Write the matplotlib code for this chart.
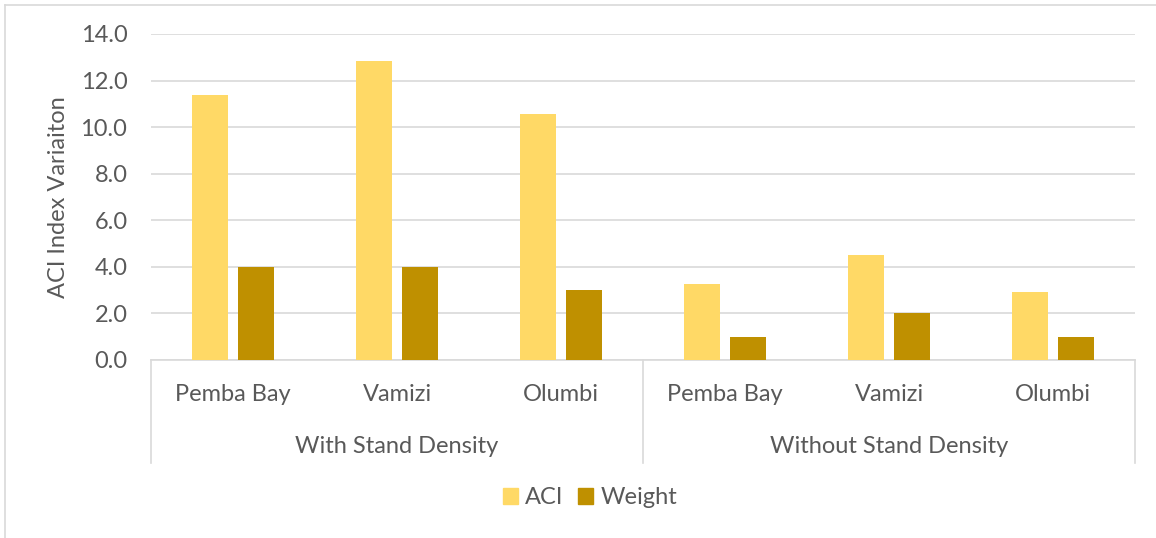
import numpy as np
import matplotlib
matplotlib.use('Agg')
import matplotlib.pyplot as plt
from matplotlib.patches import Patch
from matplotlib.lines import Line2D

sites = ['Pemba Bay', 'Vamizi', 'Olumbi', 'Pemba Bay', 'Vamizi', 'Olumbi']
groups = ['With Stand Density', 'Without Stand Density']
aci = [11.4, 12.85, 10.55, 3.25, 4.5, 2.9]
weight = [4, 4, 3, 1, 2, 1]

TEXT = '#595959'
GRID = '#D9D9D9'
ACI_COLOR = '#FFD966'
WEIGHT_COLOR = '#BF9000'
FS = 17

plt.rcParams['font.family'] = ['Lato', 'DejaVu Sans']

W, H = 1156, 538
fig = plt.figure(figsize=(W / 100, H / 100), dpi=100)


def fx(px):
    return px / W


def fy(py):
    return 1 - py / H


# chart area border
fig.add_artist(Line2D([fx(5), fx(5)], [fy(5), 0], color=GRID, lw=1.2))
fig.add_artist(Line2D([fx(5), 1], [fy(5), fy(5)], color=GRID, lw=1.2))

ax = fig.add_axes([fx(151), fy(360), fx(1135) - fx(151), fy(34) - fy(360)])
x = np.arange(len(sites))
ax.bar(x - 0.14, aci, width=0.225, color=ACI_COLOR, zorder=3)
ax.bar(x + 0.14, weight, width=0.225, color=WEIGHT_COLOR, zorder=3)

ax.set_xlim(-0.5, len(sites) - 0.5)
ax.set_ylim(0, 14)
ax.set_yticks(np.arange(0, 14.1, 2))
ax.set_yticklabels([f'{v:.1f}' for v in np.arange(0, 14.1, 2)])
ax.tick_params(axis='y', length=0, labelsize=FS, labelcolor=TEXT, pad=17)
ax.set_xticks([])
ax.yaxis.grid(True, color=GRID, lw=1.2, zorder=0)
for s in ['top', 'right', 'left']:
    ax.spines[s].set_visible(False)
ax.spines['bottom'].set_color(GRID)
ax.spines['bottom'].set_linewidth(1.2)
ax.set_ylabel('ACI Index Variaiton', fontsize=FS, color=TEXT, labelpad=8)

# two-level category axis (offsets in points, 0.72 pt per pixel)
for i, name in enumerate(sites):
    ax.annotate(name, xy=(x[i], 0), xycoords=('data', 'axes fraction'),
                xytext=(0, -25), textcoords='offset points', ha='center',
                va='center', fontsize=FS, color=TEXT)
for j, g in enumerate(groups):
    ax.annotate(g, xy=(1 + 3 * j, 0), xycoords=('data', 'axes fraction'),
                xytext=(0, -62), textcoords='offset points', ha='center',
                va='center', fontsize=FS, color=TEXT)
for px in [151, 643, 1135]:
    fig.add_artist(Line2D([fx(px), fx(px)], [fy(360), fy(463)], color=GRID, lw=1.2))

handles = [Patch(color=ACI_COLOR, label='ACI'), Patch(color=WEIGHT_COLOR, label='Weight')]
fig.legend(handles=handles, loc='center', bbox_to_anchor=(fx(590), fy(498)), ncol=2,
           frameon=False, fontsize=FS, labelcolor=TEXT, handlelength=0.65,
           handleheight=0.65, handletextpad=0.3, columnspacing=0.6)

fig.savefig('out.png', dpi=100, facecolor='white')
